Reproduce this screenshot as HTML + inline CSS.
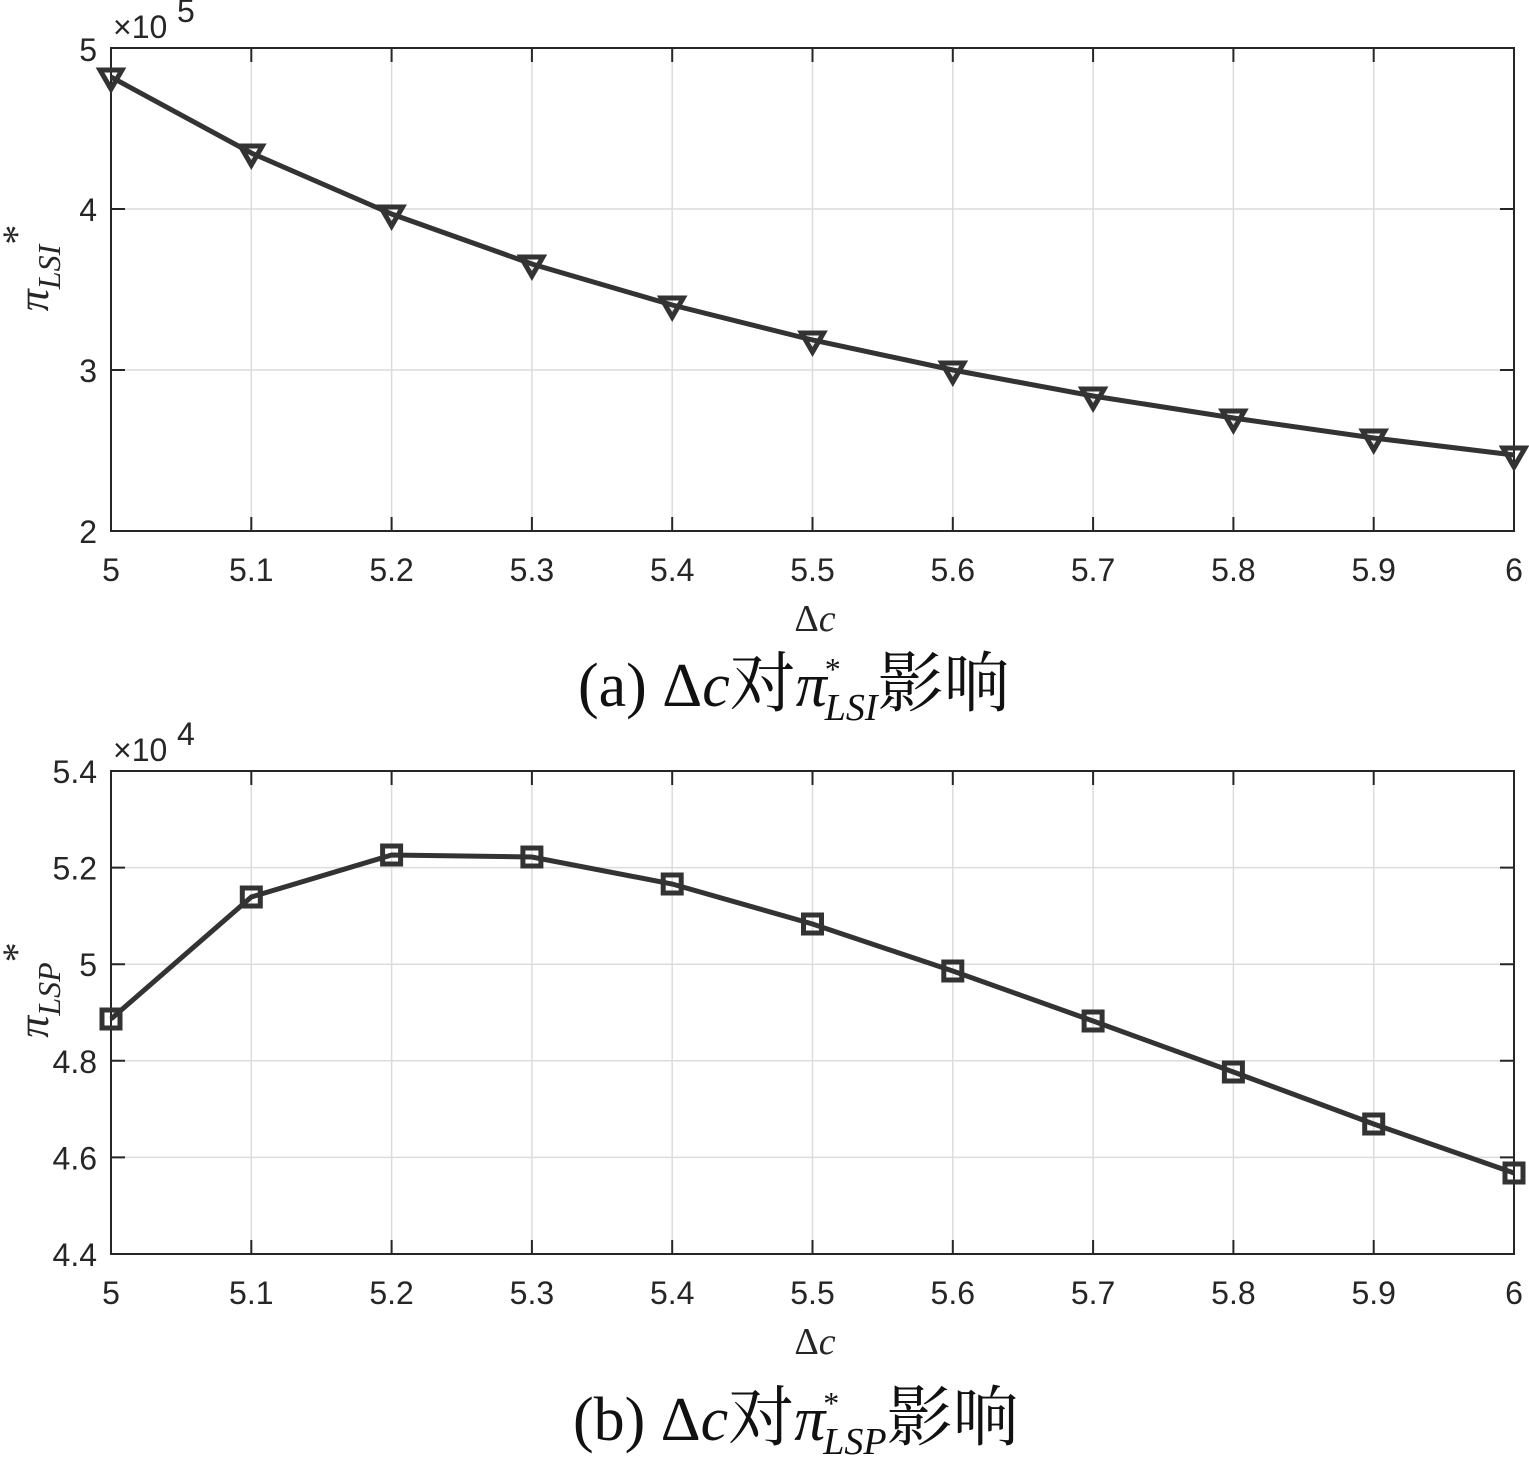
<!DOCTYPE html>
<html><head><meta charset="utf-8"><style>
html,body{margin:0;padding:0;background:#fff;}
svg{display:block;}
.t{font-family:"Liberation Sans",sans-serif;font-size:32px;fill:#262626;}
.s{font-family:"Liberation Serif","Noto Serif CJK SC",serif;}
</style></head><body>
<svg width="1529" height="1464" viewBox="0 0 1529 1464" xmlns="http://www.w3.org/2000/svg">
<!-- Plot A -->
<g stroke="#dcdcdc" stroke-width="1.5">
<line x1="251.3" y1="48" x2="251.3" y2="531"/><line x1="391.6" y1="48" x2="391.6" y2="531"/><line x1="531.9" y1="48" x2="531.9" y2="531"/><line x1="672.2" y1="48" x2="672.2" y2="531"/><line x1="812.5" y1="48" x2="812.5" y2="531"/><line x1="952.8" y1="48" x2="952.8" y2="531"/><line x1="1093.1" y1="48" x2="1093.1" y2="531"/><line x1="1233.4" y1="48" x2="1233.4" y2="531"/><line x1="1373.7" y1="48" x2="1373.7" y2="531"/>
<line x1="111" y1="209" x2="1514" y2="209"/><line x1="111" y1="370" x2="1514" y2="370"/>
</g>
<g stroke="#262626" stroke-width="2" fill="none">
<rect x="111" y="48" width="1403" height="483"/>
<path d="M251.3 531v-14M391.6 531v-14M531.9 531v-14M672.2 531v-14M812.5 531v-14M952.8 531v-14M1093.1 531v-14M1233.4 531v-14M1373.7 531v-14
M251.3 48v14M391.6 48v14M531.9 48v14M672.2 48v14M812.5 48v14M952.8 48v14M1093.1 48v14M1233.4 48v14M1373.7 48v14
M111 209h14M111 370h14M1514 209h-14M1514 370h-14"/>
</g>
<polyline fill="none" stroke="#333" stroke-width="5" points="111,77 251.3,153 391.6,214 531.9,264 672.2,305 812.5,340 952.8,370 1093.1,396 1233.4,418 1373.7,438 1514,455"/>
<g fill="none" stroke="#333" stroke-width="5" stroke-linejoin="miter">
<path d="M100 70h22l-11 19z"/>
<path d="M240.3 146h22l-11 19z"/><path d="M380.6 207h22l-11 19z"/><path d="M520.9 257h22l-11 19z"/><path d="M661.2 298h22l-11 19z"/><path d="M801.5 333h22l-11 19z"/><path d="M941.8 363h22l-11 19z"/><path d="M1082.1 389h22l-11 19z"/><path d="M1222.4 411h22l-11 19z"/><path d="M1362.7 431h22l-11 19z"/><path d="M1503 448h22l-11 19z"/>
</g>
<g class="t" text-anchor="end">
<text x="97" y="61">5</text><text x="97" y="221">4</text><text x="97" y="382">3</text><text x="97" y="543">2</text>
</g>
<g class="t" text-anchor="middle">
<text x="111" y="581">5</text><text x="251.3" y="581">5.1</text><text x="391.6" y="581">5.2</text><text x="531.9" y="581">5.3</text><text x="672.2" y="581">5.4</text><text x="812.5" y="581">5.5</text><text x="952.8" y="581">5.6</text><text x="1093.1" y="581">5.7</text><text x="1233.4" y="581">5.8</text><text x="1373.7" y="581">5.9</text><text x="1514" y="581">6</text>
</g>
<text class="t" x="113" y="38" font-size="34">×10</text><text class="t" x="177" y="22" font-size="26">5</text>
<text class="s" x="815" y="631" font-size="38" text-anchor="middle" fill="#262626">Δ<tspan font-style="italic">c</tspan></text>
<g transform="translate(48,268) rotate(-90)"><text class="s" fill="#262626" font-size="44" font-style="italic" text-anchor="middle">π<tspan font-size="32" dy="12">LSI</tspan><tspan font-size="40" dy="-30" font-style="normal">*</tspan></text></g>
<text class="s" x="578" y="706" font-size="62" fill="#111">(a) Δ<tspan font-style="italic">c</tspan><tspan font-size="66">对</tspan><tspan font-style="italic">π</tspan><tspan font-size="32" dx="-2" dy="-26">*</tspan><tspan font-size="38" font-style="italic" dx="-16" dy="40">LSI</tspan><tspan font-size="66" dy="-14">影响</tspan></text>

<!-- Plot B -->
<g stroke="#dcdcdc" stroke-width="1.5">
<line x1="251.3" y1="771" x2="251.3" y2="1254"/><line x1="391.6" y1="771" x2="391.6" y2="1254"/><line x1="531.9" y1="771" x2="531.9" y2="1254"/><line x1="672.2" y1="771" x2="672.2" y2="1254"/><line x1="812.5" y1="771" x2="812.5" y2="1254"/><line x1="952.8" y1="771" x2="952.8" y2="1254"/><line x1="1093.1" y1="771" x2="1093.1" y2="1254"/><line x1="1233.4" y1="771" x2="1233.4" y2="1254"/><line x1="1373.7" y1="771" x2="1373.7" y2="1254"/>
<line x1="111" y1="867.6" x2="1514" y2="867.6"/><line x1="111" y1="964.2" x2="1514" y2="964.2"/><line x1="111" y1="1060.8" x2="1514" y2="1060.8"/><line x1="111" y1="1157.4" x2="1514" y2="1157.4"/>
</g>
<g stroke="#262626" stroke-width="2" fill="none">
<rect x="111" y="771" width="1403" height="483"/>
<path d="M251.3 1254v-14M391.6 1254v-14M531.9 1254v-14M672.2 1254v-14M812.5 1254v-14M952.8 1254v-14M1093.1 1254v-14M1233.4 1254v-14M1373.7 1254v-14
M251.3 771v14M391.6 771v14M531.9 771v14M672.2 771v14M812.5 771v14M952.8 771v14M1093.1 771v14M1233.4 771v14M1373.7 771v14
M111 867.6h14M111 964.2h14M111 1060.8h14M111 1157.4h14M1514 867.6h-14M1514 964.2h-14M1514 1060.8h-14M1514 1157.4h-14"/>
</g>
<polyline fill="none" stroke="#333" stroke-width="5" points="111,1019 251.3,897 391.6,855 531.9,857 672.2,884 812.5,924 952.8,971 1093.1,1021 1233.4,1072 1373.7,1124 1514,1173"/>
<g fill="none" stroke="#333" stroke-width="5">
<rect x="102" y="1010" width="18" height="18"/><rect x="242.3" y="888" width="18" height="18"/><rect x="382.6" y="846" width="18" height="18"/><rect x="522.9" y="848" width="18" height="18"/><rect x="663.2" y="875" width="18" height="18"/><rect x="803.5" y="915" width="18" height="18"/><rect x="943.8" y="962" width="18" height="18"/><rect x="1084.1" y="1012" width="18" height="18"/><rect x="1224.4" y="1063" width="18" height="18"/><rect x="1364.7" y="1115" width="18" height="18"/><rect x="1505" y="1164" width="18" height="18"/>
</g>
<g class="t" text-anchor="end">
<text x="97" y="783">5.4</text><text x="97" y="879.6">5.2</text><text x="97" y="976.2">5</text><text x="97" y="1072.8">4.8</text><text x="97" y="1169.4">4.6</text><text x="97" y="1266">4.4</text>
</g>
<g class="t" text-anchor="middle">
<text x="111" y="1304">5</text><text x="251.3" y="1304">5.1</text><text x="391.6" y="1304">5.2</text><text x="531.9" y="1304">5.3</text><text x="672.2" y="1304">5.4</text><text x="812.5" y="1304">5.5</text><text x="952.8" y="1304">5.6</text><text x="1093.1" y="1304">5.7</text><text x="1233.4" y="1304">5.8</text><text x="1373.7" y="1304">5.9</text><text x="1514" y="1304">6</text>
</g>
<text class="t" x="113" y="761" font-size="34">×10</text><text class="t" x="177" y="745" font-size="26">4</text>
<text class="s" x="815" y="1354" font-size="38" text-anchor="middle" fill="#262626">Δ<tspan font-style="italic">c</tspan></text>
<g transform="translate(48,990) rotate(-90)"><text class="s" fill="#262626" font-size="44" font-style="italic" text-anchor="middle">π<tspan font-size="32" dy="12">LSP</tspan><tspan font-size="40" dy="-30" font-style="normal">*</tspan></text></g>
<text class="s" x="573" y="1440" font-size="62" fill="#111">(b) Δ<tspan font-style="italic">c</tspan><tspan font-size="66">对</tspan><tspan font-style="italic">π</tspan><tspan font-size="32" dx="-2" dy="-26">*</tspan><tspan font-size="38" font-style="italic" dx="-16" dy="40">LSP</tspan><tspan font-size="66" dy="-14">影响</tspan></text>
</svg>
</body></html>
